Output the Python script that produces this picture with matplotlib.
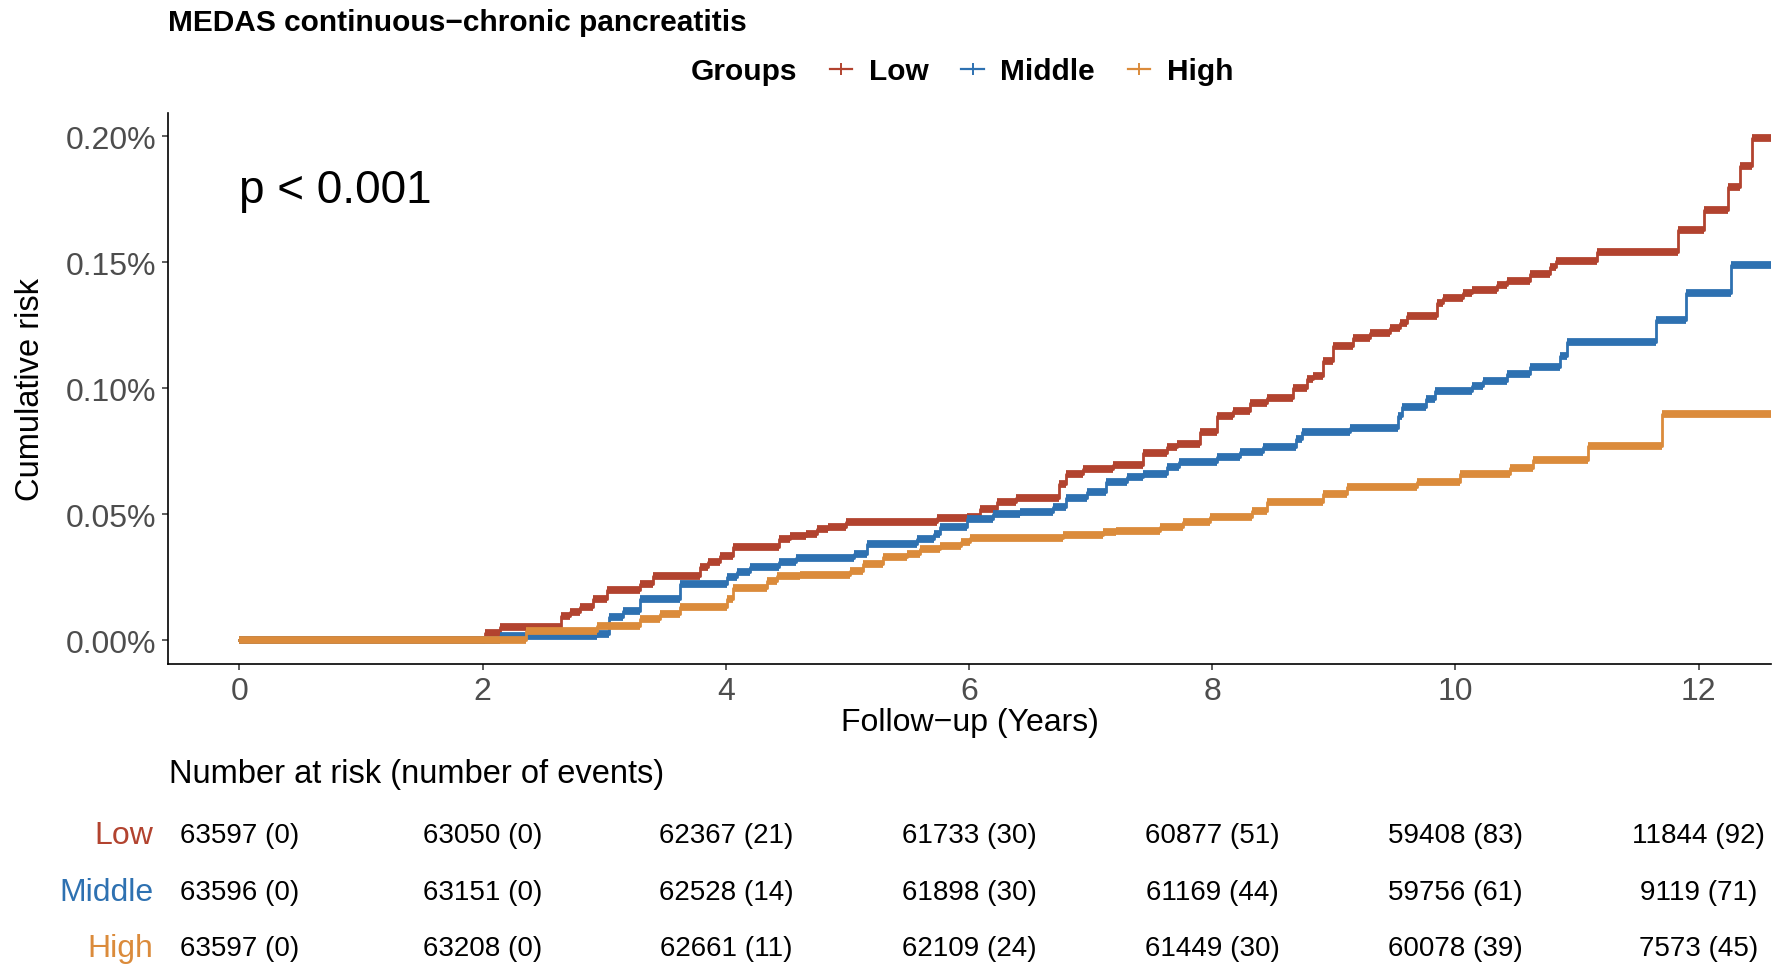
import matplotlib
matplotlib.use("Agg")
import matplotlib.pyplot as plt
from matplotlib.lines import Line2D
from matplotlib.ticker import FuncFormatter
from matplotlib.transforms import blended_transform_factory

plt.rcParams['font.family'] = ['Liberation Sans', 'DejaVu Sans']

# ---------------- data ----------------
groups = ["Low", "Middle", "High"]
colors = ["#B2432F", "#2E71B1", "#DB8B3B"]

low_t = [0, 2.02, 2.14, 2.64, 2.72, 2.80, 2.91, 3.02, 3.29, 3.40, 3.79, 3.85, 3.95, 4.06,
         4.44, 4.53, 4.66, 4.75, 4.84, 4.99, 5.74, 5.98, 6.09, 6.23, 6.39, 6.74, 6.80,
         6.94, 7.18, 7.43, 7.63, 7.71, 7.90, 8.04, 8.17, 8.31, 8.45, 8.66, 8.78, 8.83,
         8.91, 8.99, 9.16, 9.30, 9.46, 9.54, 9.60, 9.85, 9.90, 10.06, 10.14, 10.34, 10.42,
         10.61, 10.78, 10.83, 11.16, 11.83, 12.04, 12.24, 12.34, 12.44, 12.60]
low_v = [0, 0.0027, 0.0053, 0.0097, 0.0112, 0.0130, 0.0163, 0.0200, 0.0222, 0.0255, 0.0289,
         0.0310, 0.0335, 0.0370, 0.0400, 0.0412, 0.0420, 0.0440, 0.0450, 0.0467, 0.0483,
         0.0490, 0.0520, 0.0547, 0.0563, 0.0620, 0.0660, 0.0680, 0.0696, 0.0743, 0.0765,
         0.0780, 0.0825, 0.0890, 0.0910, 0.0940, 0.0960, 0.1000, 0.1036, 0.1050, 0.1110,
         0.1169, 0.1200, 0.1220, 0.1240, 0.1260, 0.1288, 0.1340, 0.1360, 0.1380, 0.1390,
         0.1410, 0.1427, 0.1454, 0.1480, 0.1506, 0.1542, 0.1628, 0.1709, 0.1798, 0.1884,
         0.1992, 0.1992]

mid_t = [0, 2.14, 2.94, 3.04, 3.15, 3.29, 3.62, 4.01, 4.09, 4.20, 4.44, 4.58, 5.05, 5.16,
         5.57, 5.71, 5.76, 5.98, 6.20, 6.42, 6.69, 6.80, 6.97, 7.13, 7.30, 7.43, 7.63, 7.73,
         8.04, 8.23, 8.42, 8.69, 8.74, 9.13, 9.53, 9.56, 9.76, 9.83, 10.14, 10.23, 10.42,
         10.61, 10.86, 10.92, 11.65, 11.90, 12.27, 12.60]
mid_v = [0, 0.0015, 0.0024, 0.0090, 0.0116, 0.0163, 0.0222, 0.0249, 0.0270, 0.0290, 0.0310,
         0.0324, 0.0340, 0.0380, 0.0400, 0.0420, 0.0450, 0.0480, 0.0500, 0.0510, 0.0527,
         0.0563, 0.0589, 0.0626, 0.0646, 0.0660, 0.0686, 0.0708, 0.0726, 0.0745, 0.0768,
         0.0800, 0.0825, 0.0840, 0.0890, 0.0924, 0.0957, 0.0990, 0.1010, 0.1030, 0.1056,
         0.1085, 0.1129, 0.1182, 0.1270, 0.1378, 0.1490, 0.1490]

high_t = [0, 2.36, 2.94, 3.29, 3.46, 3.62, 4.01, 4.06, 4.34, 4.42, 4.61, 5.02, 5.13, 5.29,
          5.49, 5.60, 5.76, 5.93, 6.01, 6.77, 7.10, 7.21, 7.57, 7.76, 7.98, 8.33, 8.45,
          8.91, 9.11, 9.68, 10.04, 10.45, 10.64, 11.09, 11.70, 12.60]
high_v = [0, 0.0037, 0.0057, 0.0083, 0.0103, 0.0130, 0.0163, 0.0205, 0.0236, 0.0255, 0.0260,
          0.0275, 0.0300, 0.0328, 0.0340, 0.0360, 0.0375, 0.0390, 0.0404, 0.0417, 0.0428,
          0.0434, 0.0448, 0.0470, 0.0487, 0.0513, 0.0550, 0.0580, 0.0606, 0.0626, 0.0660,
          0.0682, 0.0716, 0.0772, 0.0898, 0.0898]

risk_times = [0, 2, 4, 6, 8, 10, 12]
low_n = [63597, 63050, 62367, 61733, 60877, 59408, 11844]
low_e = [0, 0, 21, 30, 51, 83, 92]
mid_n = [63596, 63151, 62528, 61898, 61169, 59756, 9119]
mid_e = [0, 0, 14, 30, 44, 61, 71]
high_n = [63597, 63208, 62661, 62109, 61449, 60078, 7573]
high_e = [0, 0, 11, 24, 30, 39, 45]

x_ticks = [0, 2, 4, 6, 8, 10, 12]
y_ticks = [0.0, 0.05, 0.10, 0.15, 0.20]

series_t = [low_t, mid_t, high_t]
series_v = [low_v, mid_v, high_v]
risk_n = [low_n, mid_n, high_n]
risk_e = [low_e, mid_e, high_e]

# ---------------- figure ----------------
W, H = 1780, 970
fig = plt.figure(figsize=(W / 100, H / 100), dpi=100)

def fx(px):
    return px / W

def fy(py):
    return 1 - py / H

ax_l, ax_r, ax_t, ax_b = 168, 1771, 113.5, 665
ax = fig.add_axes([fx(ax_l), fy(ax_b), (ax_r - ax_l) / W, (ax_b - ax_t) / H])

for t, v, c in zip(series_t, series_v, colors):
    ax.step(t, v, where='post', color=c, lw=2.0, zorder=3)
    ax.hlines(v[:-1], t[:-1], t[1:], colors=c, lw=5.6, zorder=3, capstyle='butt')

ax.set_xlim(-0.588, 12.595)
ax.set_ylim(-0.00953, 0.2095)
ax.set_xticks(x_ticks)
ax.set_yticks(y_ticks)
ax.yaxis.set_major_formatter(FuncFormatter(lambda v, p: f"{v:.2f}%"))

for s in ['top', 'right']:
    ax.spines[s].set_visible(False)
for s in ['left', 'bottom']:
    ax.spines[s].set_color('black')
    ax.spines[s].set_linewidth(1.2)

ax.tick_params(axis='both', length=4.5, width=1.1, color='#333333',
               labelsize=23, labelcolor='#4D4D4D', pad=4)

ax.set_xlabel("Follow\u2212up (Years)", fontsize=23, color='black')
ax.xaxis.set_label_coords(0.5, -(723 - ax_b) / (ax_b - ax_t))
ax.xaxis.label.set_va('center')
ax.set_ylabel("Cumulative risk", fontsize=23.5, color='black')
ax.yaxis.set_label_coords(-(ax_l - 31) / (ax_r - ax_l), 0.5)
ax.yaxis.label.set_va('center')

ax.text(0.0, 0.1787, "p < 0.001", fontsize=33, ha='left', va='center', color='black')

# title
fig.text(fx(168), fy(23), "MEDAS continuous\u2212chronic pancreatitis",
         fontsize=21.5, fontweight='bold', ha='left', va='center')

# legend
fig.text(fx(691), fy(72), "Groups", fontsize=21.5, fontweight='bold',
         ha='left', va='center')
handles = [Line2D([], [], color=c, lw=1.6, marker='+', markersize=9, markeredgewidth=1.4)
           for c in colors]
leg = fig.legend(handles, groups, loc='center left', bbox_to_anchor=(fx(830), fy(72)),
                 ncol=3, frameon=False, borderpad=0, borderaxespad=0,
                 handlelength=0.75, handletextpad=0.55, columnspacing=1.1,
                 prop={'size': 21.5, 'weight': 'bold'})

# risk table
fig.text(fx(169), fy(774), "Number at risk (number of events)", fontsize=23.5,
         ha='left', va='center')
trans = blended_transform_factory(ax.transData, fig.transFigure)
row_y = [836, 893, 949]
for g, c, ns, es, ry in zip(groups, colors, risk_n, risk_e, row_y):
    fig.text(fx(153), fy(ry), g, fontsize=23, color=c, ha='right', va='center')
    for tt, n, e in zip(risk_times, ns, es):
        ax.text(tt, fy(ry), f"{n} ({e})", transform=trans, fontsize=20,
                ha='center', va='center', clip_on=False)

fig.savefig("out.png", dpi=100)
